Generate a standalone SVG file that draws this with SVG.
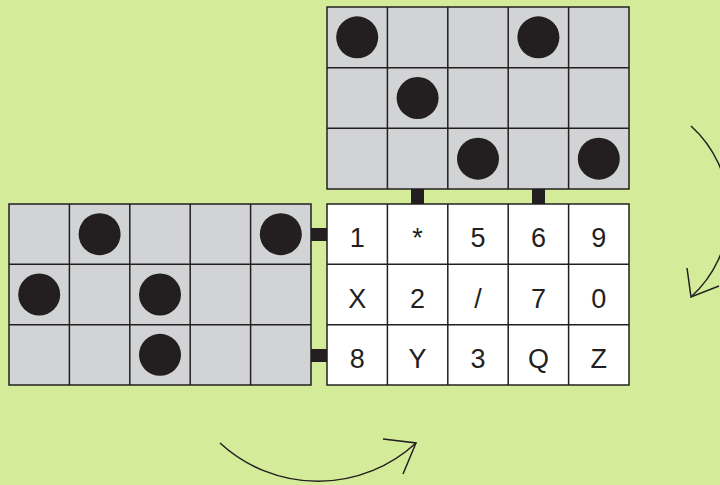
<svg xmlns="http://www.w3.org/2000/svg" width="720" height="485" viewBox="0 0 720 485">
<style>
.grey{fill:#d1d3d4;stroke:#231f20;stroke-width:1.5}
.white{fill:#ffffff;stroke:#231f20;stroke-width:1.5}
.ln{stroke:#231f20;stroke-width:1.5}
.dot{fill:#231f20}
.t{font-family:"Liberation Sans",Arial,sans-serif;font-size:27px;fill:#231f20;text-anchor:middle}
.arc{fill:none;stroke:#231f20;stroke-width:1.5}
</style>
<rect width="720" height="485" fill="#d4ec9a"/>
<g id="connectors">
<rect x="411" y="189" width="13" height="15" fill="#231f20"/>
<rect x="532" y="189" width="13" height="15" fill="#231f20"/>
<rect x="311" y="228" width="16" height="13" fill="#231f20"/>
<rect x="311" y="349" width="16" height="13" fill="#231f20"/>
<path class="arc" d="M691 126 A115.3 115.3 0 0 1 691 297"/>
<path class="arc" d="M687 268 L691 297 L719 286"/>
<path class="arc" d="M220 443 A144.5 144.5 0 0 0 416 443"/>
<path class="arc" d="M383 439 L416 443 L403 474"/>
</g>
<g id="top-grid">
<rect class="grey" x="327" y="7" width="302" height="182"/>
<path class="ln" d="M387.4 7V189M447.8 7V189M508.2 7V189M568.6 7V189M327 67.7H629M327 128.3H629"/>
<circle class="dot" cx="357.2" cy="37.3" r="21"/>
<circle class="dot" cx="538.4" cy="37.3" r="21"/>
<circle class="dot" cx="417.6" cy="98" r="21"/>
<circle class="dot" cx="478" cy="158.7" r="21"/>
<circle class="dot" cx="598.8" cy="158.7" r="21"/>
</g>
<g id="left-grid">
<rect class="grey" x="9" y="204" width="302" height="181"/>
<path class="ln" d="M69.4 204V385M129.8 204V385M190.2 204V385M250.6 204V385M9 264.3H311M9 324.7H311"/>
<circle class="dot" cx="99.6" cy="234.2" r="21"/>
<circle class="dot" cx="280.8" cy="234.2" r="21"/>
<circle class="dot" cx="39.2" cy="294.5" r="21"/>
<circle class="dot" cx="160" cy="294.5" r="21"/>
<circle class="dot" cx="160" cy="354.8" r="21"/>
</g>
<g id="symbol-grid">
<rect class="white" x="327" y="204" width="302" height="181"/>
<path class="ln" d="M387.4 204V385M447.8 204V385M508.2 204V385M568.6 204V385M327 264.3H629M327 324.7H629"/>
<text class="t" x="357.2" y="247.3">1</text>
<text class="t" x="417.6" y="247.3">*</text>
<text class="t" x="478" y="247.3">5</text>
<text class="t" x="538.4" y="247.3">6</text>
<text class="t" x="598.8" y="247.3">9</text>
<text class="t" x="357.2" y="307.6">X</text>
<text class="t" x="417.6" y="307.6">2</text>
<text class="t" x="478" y="307.6">/</text>
<text class="t" x="538.4" y="307.6">7</text>
<text class="t" x="598.8" y="307.6">0</text>
<text class="t" x="357.2" y="367.9">8</text>
<text class="t" x="417.6" y="367.9">Y</text>
<text class="t" x="478" y="367.9">3</text>
<text class="t" x="538.4" y="367.9">Q</text>
<text class="t" x="598.8" y="367.9">Z</text>
</g>
</svg>
